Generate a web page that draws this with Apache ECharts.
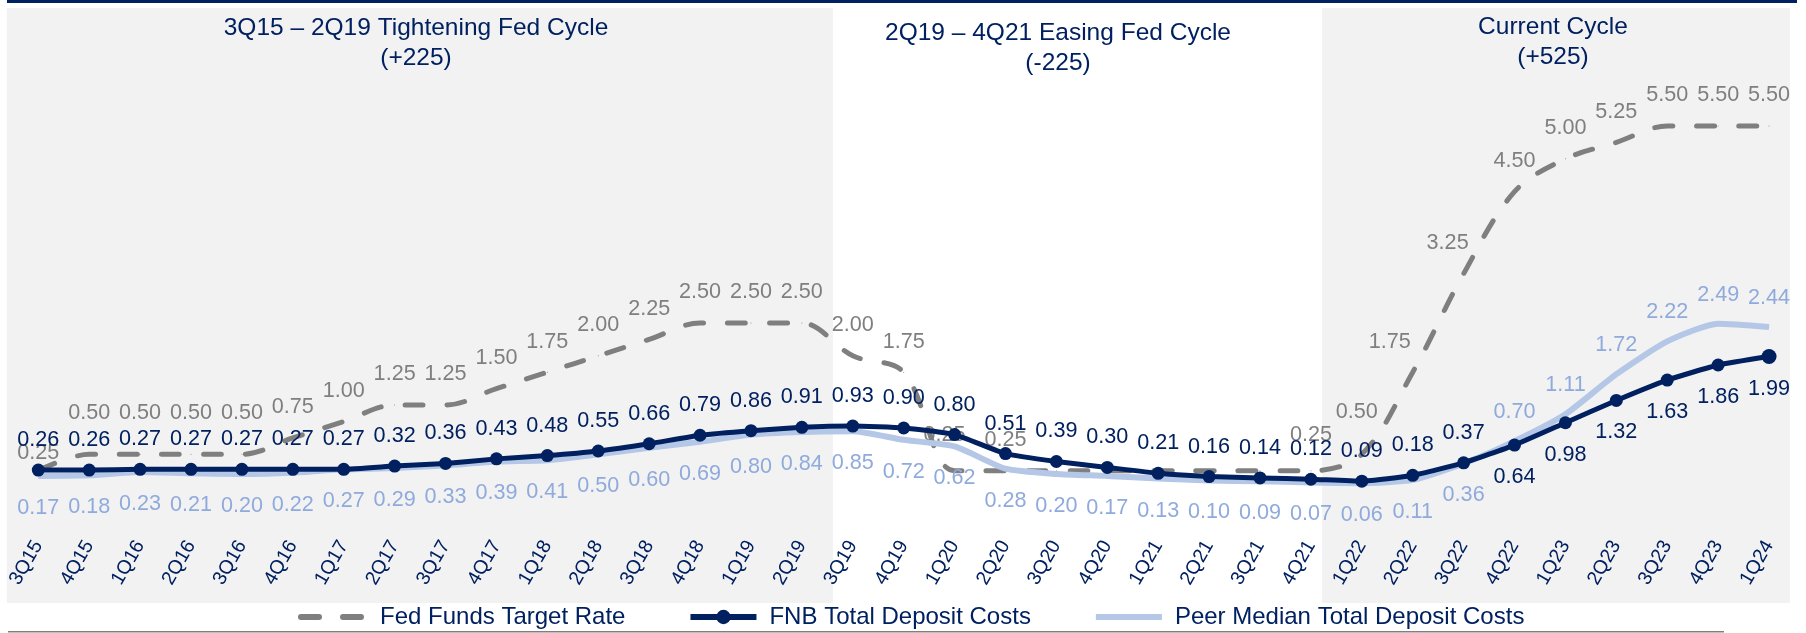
<!DOCTYPE html>
<html>
<head>
<meta charset="utf-8">
<title>Deposit Costs vs Fed Funds Target Rate</title>
<script src="https://cdn.jsdelivr.net/npm/echarts@6/dist/echarts.min.js"></script>
<style>
  html, body { margin: 0; padding: 0; background: #ffffff; }
  #chart { width: 1806px; height: 633px; }
</style>
</head>
<body>
<div id="chart"></div>
<script>
// Quarter labels along the x axis
const categories = [
  '3Q15', '4Q15', '1Q16', '2Q16', '3Q16', '4Q16', '1Q17', '2Q17', '3Q17', '4Q17',
  '1Q18', '2Q18', '3Q18', '4Q18', '1Q19', '2Q19', '3Q19', '4Q19', '1Q20', '2Q20',
  '3Q20', '4Q20', '1Q21', '2Q21', '3Q21', '4Q21', '1Q22', '2Q22', '3Q22', '4Q22',
  '1Q23', '2Q23', '3Q23', '4Q23', '1Q24'
];

// Fed funds target rate (%), upper bound
const fedFundsRate = [
  0.25, 0.50, 0.50, 0.50, 0.50, 0.75, 1.00, 1.25, 1.25, 1.50,
  1.75, 2.00, 2.25, 2.50, 2.50, 2.50, 2.00, 1.75, 0.25, 0.25,
  0.25, 0.25, 0.25, 0.25, 0.25, 0.25, 0.50, 1.75, 3.25, 4.50,
  5.00, 5.25, 5.50, 5.50, 5.50
];

// FNB total deposit costs (%)
const fnbDepositCosts = [
  0.26, 0.26, 0.27, 0.27, 0.27, 0.27, 0.27, 0.32, 0.36, 0.43,
  0.48, 0.55, 0.66, 0.79, 0.86, 0.91, 0.93, 0.90, 0.80, 0.51,
  0.39, 0.30, 0.21, 0.16, 0.14, 0.12, 0.09, 0.18, 0.37, 0.64,
  0.98, 1.32, 1.63, 1.86, 1.99
];

// Peer median total deposit costs (%)
const peerDepositCosts = [
  0.17, 0.18, 0.23, 0.21, 0.20, 0.22, 0.27, 0.29, 0.33, 0.39,
  0.41, 0.50, 0.60, 0.69, 0.80, 0.84, 0.85, 0.72, 0.62, 0.28,
  0.20, 0.17, 0.13, 0.10, 0.09, 0.07, 0.06, 0.11, 0.36, 0.70,
  1.11, 1.72, 2.22, 2.49, 2.44
];

// Rate-cycle periods shaded in the background
const shadedCycles = [
  ['3Q15', '2Q19'],
  ['1Q22', '1Q24']
];

// Cycle headings
const cycleTitles = [
  ['3Q15 – 2Q19 Tightening Fed Cycle', '(+225)'],
  ['2Q19 – 4Q21 Easing Fed Cycle', '(-225)'],
  ['Current Cycle', '(+525)']
];

// Fed rate quarters whose value is left unlabelled (flat stretch in 2020-21)
const fedUnlabelled = ['3Q20', '4Q20', '1Q21', '2Q21', '3Q21'];
// Quarter from which FNB labels go below the line and peer labels above it
const labelFlipQuarter = '4Q22';

const NAVY = '#002060';
const GREY = '#7F7F7F';
const LIGHT = '#B4C7E7';
const LIGHT_TEXT = '#8FAADC';
const FONT = '"Liberation Sans", Arial, Helvetica, sans-serif';
const LABEL_SIZE = 21.6;

const fmt = p => Number(p.value).toFixed(2);

// Fed label nudges [dx, extra distance] to keep them clear of other labels
const fedNudge = {
  '3Q15': [0, -13], '4Q15': [0, 11], '1Q16': [0, 11], '2Q16': [0, 11], '3Q16': [0, 11],
  '1Q20': [-10, 5], '4Q21': [0, 5], '1Q22': [-5, 12], '2Q22': [-23, 0], '3Q22': [-16, 0]
};

const fedData = fedFundsRate.map((v, i) => {
  const q = categories[i];
  const n = fedNudge[q] || [0, 0];
  return {
    value: v,
    label: {
      show: fedUnlabelled.indexOf(q) < 0,
      offset: [n[0], 0],
      distance: 19 + n[1]
    }
  };
});

const flipIdx = categories.indexOf(labelFlipQuarter);
const lastIdx = categories.length - 1;
const fnbData = fnbDepositCosts.map((v, i) => ({
  value: v,
  symbolSize: i === lastIdx ? 15 : 13,
  label: i < flipIdx ? { position: 'top', distance: 12.5 } : { position: 'bottom', distance: 14.5 }
}));
const peerData = peerDepositCosts.map((v, i) => ({
  value: v,
  label: i < flipIdx ? { position: 'bottom', distance: 20.5 } : { position: 'top', distance: 17.5 }
}));

const bandData = shadedCycles.map(c => [categories.indexOf(c[0]), categories.indexOf(c[1]), 0]);

const chart = echarts.init(document.getElementById('chart'), null, { renderer: 'canvas' });

chart.setOption({
  animation: false,
  backgroundColor: '#ffffff',
  textStyle: { fontFamily: FONT },
  grid: {
    left: 12.85, right: 11.5, top: 93.2, bottom: 145.9,
    containLabel: false,
    outerBoundsMode: 'none'
  },
  xAxis: {
    type: 'category',
    data: categories,
    boundaryGap: true,
    axisLine: { show: false },
    axisTick: { show: false },
    splitLine: { show: false },
    axisLabel: {
      interval: 0,
      rotate: 60,
      margin: 55,
      fontSize: 19.5,
      color: NAVY,
      fontFamily: FONT
    }
  },
  yAxis: {
    type: 'value',
    min: 0,
    max: 6,
    show: false
  },
  legend: {
    top: 605,
    left: 298,
    padding: 0,
    itemWidth: 66,
    itemHeight: 18,
    itemGap: 62,
    lineStyle: { width: 6 },
    data: [
      { name: 'Fed Funds Target Rate', itemStyle: { opacity: 0 } },
      { name: 'FNB Total Deposit Costs' },
      { name: 'Peer Median Total Deposit Costs', itemStyle: { opacity: 0 } }
    ],
    textStyle: { fontSize: 24, color: NAVY, fontFamily: FONT, padding: [0, 0, 0, 8] }
  },
  graphic: [
    { type: 'rect', left: 7, top: 0, shape: { width: 1790, height: 3 }, style: { fill: NAVY }, silent: true },
    { type: 'rect', left: 8, top: 631, shape: { width: 1716, height: 1.5 }, style: { fill: GREY }, silent: true }
  ].concat(cycleTitles.map((t, i) => ({
    type: 'text',
    x: [416, 1058, 1553][i],
    y: [28, 33, 27][i] - 14.5,
    silent: true,
    z: 10,
    style: {
      text: t.join('\n'),
      fill: NAVY,
      font: '24.5px ' + FONT,
      lineHeight: 29.5,
      align: 'center',
      verticalAlign: 'top'
    }
  }))),
  series: [
    {
      // shaded background bands for the two tightening cycles
      type: 'custom',
      silent: true,
      z: 0,
      encode: { x: [0, 1], y: 2 },
      data: bandData,
      renderItem: (params, api) => {
        const step = api.size([1, 0])[0];
        const a = api.coord([api.value(0), 0]);
        const b = api.coord([api.value(1), 0]);
        const first = params.dataIndex === 0;
        const x0 = a[0] - (first ? 0.62 : 0.78) * step;
        const x1 = b[0] + (first ? 0.61 : 0.41) * step;
        return {
          type: 'rect',
          shape: { x: x0, y: 8, width: x1 - x0, height: 595 },
          style: { fill: '#F2F2F2' }
        };
      }
    },
    {
      name: 'Fed Funds Target Rate',
      type: 'line',
      data: fedData,
      smooth: 0.35,
      symbol: 'circle',
      symbolSize: 1,
      z: 3,
      itemStyle: { color: GREY },
      lineStyle: { color: GREY, width: 5, type: [18, 24], cap: 'round' },
      label: {
        show: true, position: 'top', formatter: fmt,
        color: GREY, fontSize: LABEL_SIZE, fontFamily: FONT
      }
    },
    {
      name: 'Peer Median Total Deposit Costs',
      type: 'line',
      data: peerData,
      smooth: 0.2,
      symbol: 'circle',
      symbolSize: 1,
      z: 4,
      itemStyle: { color: LIGHT },
      lineStyle: { color: LIGHT, width: 6 },
      label: {
        show: true, formatter: fmt,
        color: LIGHT_TEXT, fontSize: LABEL_SIZE, fontFamily: FONT
      }
    },
    {
      name: 'FNB Total Deposit Costs',
      type: 'line',
      data: fnbData,
      smooth: 0.15,
      symbol: 'circle',
      z: 5,
      itemStyle: { color: NAVY },
      lineStyle: { color: NAVY, width: 5 },
      label: {
        show: true, formatter: fmt,
        color: NAVY, fontSize: LABEL_SIZE, fontFamily: FONT
      }
    }
  ]
});
</script>
</body>
</html>
